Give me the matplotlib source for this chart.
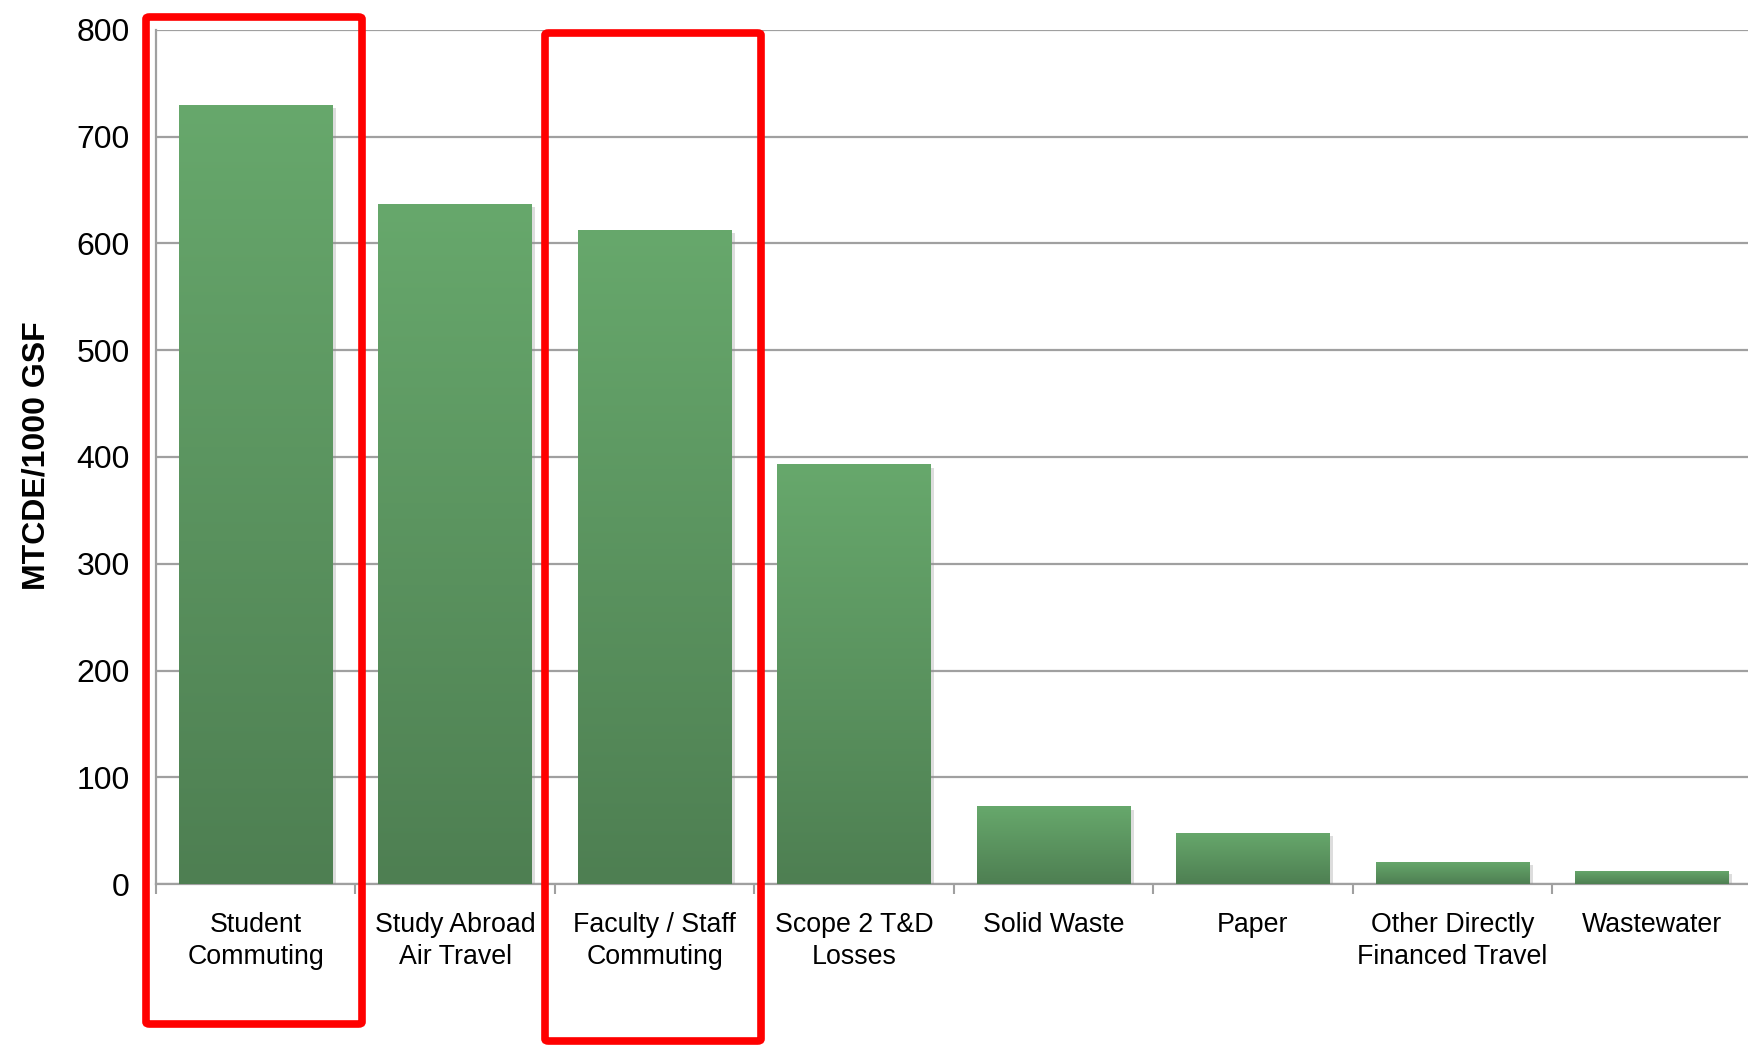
import matplotlib
matplotlib.use("Agg")
from matplotlib import pyplot as plt
from matplotlib.patches import FancyBboxPatch
import matplotlib.patheffects as pe
import numpy as np

plt.rcParams['font.family'] = ['Liberation Sans', 'DejaVu Sans']

# 数据
categories = ['Student\nCommuting', 'Study Abroad\nAir Travel', 'Faculty / Staff\nCommuting',
              'Scope 2 T&D\nLosses', 'Solid Waste', 'Paper',
              'Other Directly\nFinanced Travel', 'Wastewater']
values = [730, 637, 613, 393, 73, 48, 21, 12.5]
yticks = [0, 100, 200, 300, 400, 500, 600, 700, 800]

W, H = 1748, 1045
fig = plt.figure(figsize=(W / 100, H / 100), dpi=100)
ax = fig.add_axes([156 / W, 1 - 884 / H, 1 - 156 / W + 0.002, (884 - 30) / H])

x = np.arange(len(categories))
bw = 0.77
top_c = np.array([103, 168, 108]) / 255
bot_c = np.array([78, 127, 82]) / 255
grad = np.linspace(0, 1, 256)[:, None, None] * (bot_c - top_c) + top_c  # 顶部浅, 底部深

bars = ax.bar(x, values, width=bw, color=bot_c, zorder=3,
              path_effects=[pe.SimplePatchShadow(offset=(2.5, -2.5), shadow_rgbFace='#909090', alpha=0.3),
                            pe.Normal()])
for b in bars:
    im = ax.imshow(grad, extent=(b.get_x(), b.get_x() + b.get_width(), 0, b.get_height()),
                   aspect='auto', zorder=4, interpolation='bilinear')
    im.set_clip_path(b)

ax.set_xlim(-0.5, len(categories) - 0.5)
ax.set_ylim(0, 800)
ax.set_yticks(yticks)
ax.set_yticklabels([str(t) for t in yticks], fontsize=23)
ax.yaxis.grid(True, color='#a0a0a0', linewidth=1.6, zorder=0)
ax.set_axisbelow(True)

ax.set_xticks(x)
ax.set_xticklabels(categories, fontsize=19.3, linespacing=1.3)
ax.set_xticks(np.arange(len(categories) + 1) - 0.5, minor=True)
ax.tick_params(axis='x', which='major', length=0, pad=20)
ax.tick_params(axis='x', which='minor', length=7, width=1.5, color='#a0a0a0', direction='out')
ax.tick_params(axis='y', length=0, pad=19)

for s in ['top', 'right']:
    ax.spines[s].set_visible(False)
for s in ['left', 'bottom']:
    ax.spines[s].set_color('#a0a0a0')
    ax.spines[s].set_linewidth(1.6)

fig.text(37 / W, 1 - 456 / H, 'MTCDE/1000 GSF', rotation=90, fontsize=23,
         fontweight='bold', ha='center', va='center')

# 红色标注框
for x0, y0, x1, y1 in [(146, 17, 362, 1024), (545, 33, 761, 1041)]:
    fig.patches.append(FancyBboxPatch((x0 / W, 1 - y1 / H), (x1 - x0) / W, (y1 - y0) / H,
                                      boxstyle='round,pad=0,rounding_size=0.002',
                                      transform=fig.transFigure, fill=False,
                                      edgecolor='#ff0000', linewidth=5.5, zorder=10))

fig.savefig('out.png', dpi=100)
